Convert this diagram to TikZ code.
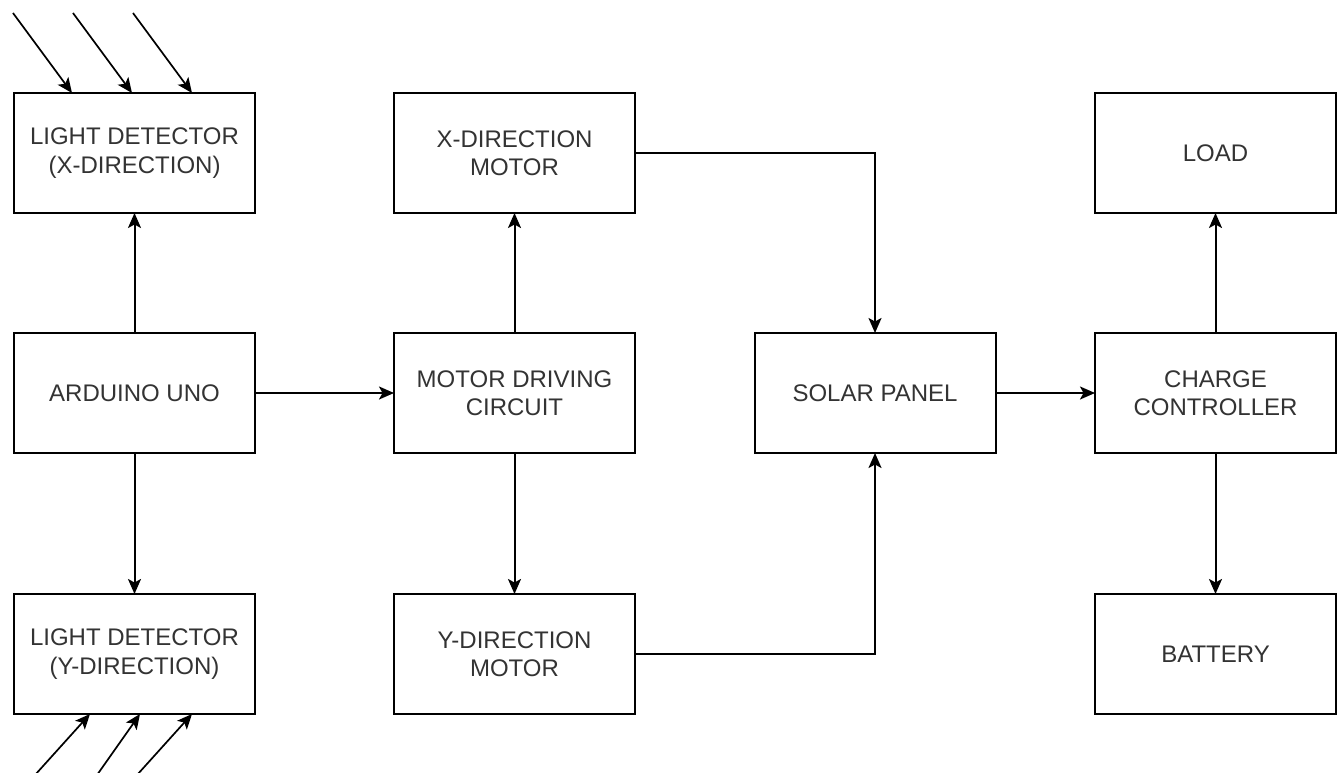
\documentclass[tikz,border=0pt]{standalone}
\usepackage{fontspec}
\setmainfont{Liberation Sans}
\usetikzlibrary{arrows.meta,calc}
\begin{document}
\begin{tikzpicture}[x=1pt,y=-1pt,
  blockbox/.style={draw=black,line width=2pt,fill=white,minimum width=241pt,minimum height=120pt,
    inner sep=0pt,outer sep=0pt,align=center,text=black!80,
    font=\fontsize{24}{28.5}\selectfont},
  conn/.style={line width=2pt,-{Stealth[length=15pt,width=13pt,inset=3.5pt]}},
  ray/.style={line width=1.7pt,-{Stealth[length=15pt,width=13pt,inset=3.5pt]}}]
\useasboundingbox (0,0) rectangle (1338,773);
\fill[white] (0,0) rectangle (1338,773);
\node[blockbox] (ldx) at (134.5,153) {LIGHT DETECTOR\\(X-DIRECTION)};
\node[blockbox] (ard) at (134.5,393) {ARDUINO UNO};
\node[blockbox] (ldy) at (134.5,654) {LIGHT DETECTOR\\(Y-DIRECTION)};
\node[blockbox] (xdm) at (514.5,153) {X-DIRECTION\\MOTOR};
\node[blockbox] (mdc) at (514.5,393) {MOTOR DRIVING\\CIRCUIT};
\node[blockbox] (ydm) at (514.5,654) {Y-DIRECTION\\MOTOR};
\node[blockbox] (sp) at (875,393) {SOLAR PANEL};
\node[blockbox] (cc) at (1215.5,393) {CHARGE\\CONTROLLER};
\node[blockbox] (load) at (1215.5,153) {LOAD};
\node[blockbox] (bat) at (1215.5,654) {BATTERY};
% connectors
\draw[conn] (ard.north) -- (ldx.south);
\draw[conn] (ard.south) -- (ldy.north);
\draw[conn] (ard.east) -- (mdc.west);
\draw[conn] (mdc.north) -- (xdm.south);
\draw[conn] (mdc.south) -- (ydm.north);
\draw[conn] (xdm.east) -| (sp.north);
\draw[conn] (ydm.east) -| (sp.south);
\draw[conn] (sp.east) -- (cc.west);
\draw[conn] (cc.north) -- (load.south);
\draw[conn] (cc.south) -- (bat.north);
% light rays
\coordinate (t1) at (13,13);
\coordinate (t2) at (73,13);
\coordinate (t3) at (133,13);
\draw[ray] (t1) -- ($(ldx.north west)+(58,0)$);
\draw[ray] (t2) -- ($(ldx.north west)+(118,0)$);
\draw[ray] (t3) -- ($(ldx.north west)+(178,0)$);
\coordinate (b1) at (35,775);
\coordinate (b2) at (97,775);
\coordinate (b3) at (137,775);
\draw[ray] (b1) -- ($(ldy.south west)+(76,0)$);
\draw[ray] (b2) -- ($(ldy.south west)+(126,0)$);
\draw[ray] (b3) -- ($(ldy.south west)+(178,0)$);
\end{tikzpicture}
\end{document}
